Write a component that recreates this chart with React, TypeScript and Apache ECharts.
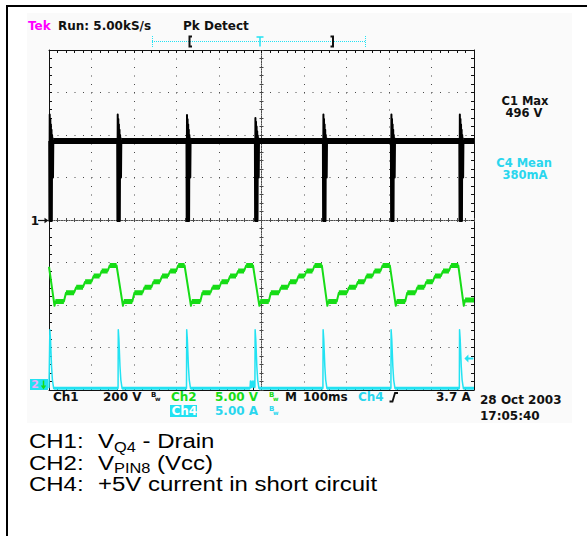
import React, { useEffect, useRef } from 'react';
import * as echarts from 'echarts';

// ---------------- data ----------------
// horizontal: 100 ms/div, 10 divisions, time in ms measured from the trigger point (screen centre)
const timeMin = -500;
const timeMax = 500;
const timePerDiv = 100;
// vertical graticule: 8 divisions, 0 at the centre line
const divMin = -4;
const divMax = 4;
// channel scales: CH1 200 V/div (ground at centre), CH2 5 V/div and CH4 5 A/div (ground at bottom edge)
const ch1Range = [-800, 800];
const ch2Range = [0, 40];
const ch4Range = [0, 40];

// CH1: V(Q4) drain [ms, V]
const ch1Drain: [number, number][] = [
  [-499.5, 372], [-499, -5], [-498.3, 496], [-497.6, -5], [-496.9, 475], [-496.2, -5], [-495.5, 450], [-494.8, -5], [-494.1, 425], [-493.4, -5], [-492.7, 400], [-492, 200], [-491.3, 385], [-490.6, 200], [-489.9, 372],
  [-339.5, 372], [-339, -5], [-338.3, 496], [-337.6, -5], [-336.9, 475], [-336.2, -5], [-335.5, 450], [-334.8, -5], [-334.1, 425], [-333.4, -5], [-332.7, 400], [-332, 200], [-331.3, 385], [-330.6, 200], [-329.9, 372],
  [-176.5, 372], [-176, -5], [-175.3, 494], [-174.6, -5], [-173.9, 474], [-173.2, -5], [-172.5, 450], [-171.8, -5], [-171.1, 425], [-170.4, -5], [-169.7, 400], [-169, 200], [-168.3, 385], [-167.6, 200], [-166.9, 372],
  [-15.5, 372], [-15, -5], [-14.3, 480], [-13.6, -5], [-12.9, 462], [-12.2, -5], [-11.5, 440], [-10.8, -5], [-10.1, 418], [-9.4, -5], [-8.7, 398], [-8, 200], [-7.3, 385], [-6.6, 200], [-5.9, 372],
  [144.5, 372], [145, -5], [145.7, 496], [146.4, -5], [147.1, 475], [147.8, -5], [148.5, 450], [149.2, -5], [149.9, 425], [150.6, -5], [151.3, 400], [152, 200], [152.7, 385], [153.4, 200], [154.1, 372],
  [304.5, 372], [305, -5], [305.7, 496], [306.4, -5], [307.1, 475], [307.8, -5], [308.5, 450], [309.2, -5], [309.9, 425], [310.6, -5], [311.3, 400], [312, 200], [312.7, 385], [313.4, 200], [314.1, 372],
  [465.5, 372], [466, -5], [466.7, 496], [467.4, -5], [468.1, 475], [468.8, -5], [469.5, 450], [470.2, -5], [470.9, 425], [471.6, -5], [472.3, 400], [473, 200], [473.7, 385], [474.4, 200], [475.1, 372],
  [500, 372],
];

// CH2: V(PIN8) (Vcc) [ms, V]
const ch2Vcc: [number, number][] = [
  [-500, 14.5],
  [-487, 9.9], [-485, 10.4], [-465, 10.4], [-460, 11.45], [-441, 11.45], [-436, 12.1], [-420, 12.1], [-415, 12.75], [-400, 12.75], [-395, 13.4], [-381, 13.4], [-376, 14.0], [-362, 14.0], [-357, 14.65], [-341, 14.65],
  [-326, 9.9], [-324, 10.4], [-304, 10.4], [-299, 11.45], [-280, 11.45], [-275, 12.1], [-259, 12.1], [-254, 12.75], [-239, 12.75], [-234, 13.4], [-220, 13.4], [-215, 14.0], [-201, 14.0], [-196, 14.65], [-181, 14.65],
  [-166, 9.9], [-164, 10.4], [-144, 10.4], [-139, 11.45], [-120, 11.45], [-115, 12.1], [-99, 12.1], [-94, 12.75], [-79, 12.75], [-74, 13.4], [-60, 13.4], [-55, 14.0], [-41, 14.0], [-36, 14.65], [-20, 14.65],
  [-5, 9.9], [-3, 10.4], [17, 10.4], [22, 11.45], [41, 11.45], [46, 12.1], [62, 12.1], [67, 12.75], [82, 12.75], [87, 13.4], [101, 13.4], [106, 14.0], [120, 14.0], [125, 14.65], [142, 14.65],
  [155, 9.9], [157, 10.4], [177, 10.4], [182, 11.45], [201, 11.45], [206, 12.1], [222, 12.1], [227, 12.75], [242, 12.75], [247, 13.4], [261, 13.4], [266, 14.0], [280, 14.0], [285, 14.65], [302, 14.65],
  [316, 9.9], [318, 10.4], [338, 10.4], [343, 11.45], [362, 11.45], [367, 12.1], [383, 12.1], [388, 12.75], [403, 12.75], [408, 13.4], [422, 13.4], [427, 14.0], [441, 14.0], [446, 14.65], [463, 14.65],
  [476, 9.9], [479, 10.6], [500, 10.6],
];

// CH4: +5V current in short circuit [ms, A]
const ch4Current: [number, number][] = [
  [-500, 0.2], [-498.5, 0.2], [-498, 7.1], [-496.5, 6.0], [-494, 2.8], [-492, 1.2], [-489, 0.2],
  [-337.5, 0.2], [-337, 7.1], [-335.5, 6.0], [-333, 2.8], [-331, 1.2], [-328, 0.2],
  [-176.5, 0.2], [-176, 7.1], [-174.5, 6.0], [-172, 2.8], [-170, 1.2], [-167, 0.2],
  [-27, 0.2], [-26, 1.05], [-24, 0.3], [-22, 1.05], [-20, 0.3], [-18, 1.05], [-16, 0.3], [-15.5, 0.4], [-15, 7.1], [-13.5, 6.0], [-11, 2.8], [-9, 1.2], [-6, 0.2],
  [144.5, 0.2], [145, 7.1], [146.5, 6.0], [149, 2.8], [151, 1.2], [154, 0.2],
  [304.5, 0.2], [305, 7.1], [306.5, 6.0], [309, 2.8], [311, 1.2], [314, 0.2],
  [465.5, 0.2], [466, 7.1], [467.5, 6.0], [470, 2.8], [472, 1.2], [475, 0.2],
  [500, 0.2],
];
const ch4TriggerLevel = 3.7;

// readout texts
const hdrTek = 'Tek';
const hdrRun = 'Run: 5.00kS/s';
const hdrMode = 'Pk Detect';
const meas1 = ['C1 Max', '496 V'];
const meas4 = ['C4 Mean', '380mA'];
const ch1Scale = ['Ch1', '200 V'];
const ch2Scale = ['Ch2', '5.00 V'];
const ch4Scale = ['Ch4', '5.00 A'];
const timebase = ['M', '100ms'];
const trigger = ['Ch4', '3.7 A'];
const dateStamp = ['28 Oct 2003', '17:05:40'];
const noteLabels = ['CH1:', 'CH2:', 'CH4:'];
const noteMain = ['V', 'V', '+5V current in short circuit'];
const noteSub = ['Q4', 'PIN8', ''];
const noteRest = [' - Drain', ' (Vcc)', ''];

// ---------------- styling ----------------
const BLACK = '#111111';
const GREEN = '#16dc16';
const CYAN = '#22e2f2';
const CYAN_TXT = '#2ad6ee';
const MAGENTA = '#ff00ff';
const DOT = '#4a4a4a';
const SCOPE_FONT = 'bold 12px "DejaVu Sans"';
const MEAS_FONT = 'bold 11.5px "DejaVu Sans"';
const NOTE_FONT = `20.5px "Liberation Sans"`;
const SUB_FONT = `14px "Liberation Sans"`;
const NOTE_STRETCH = 1.17;

function measure(text: string, font: string): number {
  const ctx = document.createElement('canvas').getContext('2d');
  if (!ctx) return text.length * 10;
  ctx.font = font;
  return ctx.measureText(text).width;
}

function flatSegments(pts: [number, number][], minLen: number) {
  const out: any[] = [];
  for (let i = 0; i < pts.length - 1; i++) {
    const a = pts[i];
    const b = pts[i + 1];
    if (a[1] === b[1] && b[0] - a[0] >= minLen) {
      out.push([a[0], a[1]], [b[0], b[1]], [b[0], '-']);
    }
  }
  return out;
}

function txt(x: number, y: number, text: string, fill: string, extra: any = {}) {
  const align = extra.align || 'left';
  return {
    type: 'text',
    x,
    y,
    scaleX: extra.scaleX || 1,
    silent: true,
    z: 20,
    style: {
      text,
      fill,
      font: extra.font || SCOPE_FONT,
      align,
      textAlign: align,
      verticalAlign: 'middle',
      textVerticalAlign: 'middle',
    },
  };
}

function line(x1: number, y1: number, x2: number, y2: number, stroke: string, lineWidth = 1, lineDash?: number[]) {
  return {
    type: 'line',
    silent: true,
    z: 20,
    shape: { x1, y1, x2, y2 },
    style: { stroke, lineWidth, lineDash },
  };
}

function poly(points: number[][], stroke: string, lineWidth = 1.5) {
  return { type: 'polyline', silent: true, z: 20, shape: { points }, style: { stroke, lineWidth, fill: null } };
}

function bw(x: number, y: number, fill: string) {
  return [
    txt(x, y - 2, 'B', fill, { font: 'bold 7px "DejaVu Sans"' }),
    txt(x + 4, y + 1, 'w', fill, { font: 'bold 6px "DejaVu Sans"' }),
  ];
}

function buildOption() {
  const graphic: any[] = [];
  // page frame and screen background
  graphic.push({ type: 'rect', silent: true, z: -10, shape: { x: 27, y: 13, width: 545, height: 410 }, style: { fill: '#fafafa' } });
  graphic.push({ type: 'rect', silent: true, z: 20, shape: { x: 6, y: 5, width: 581, height: 2 }, style: { fill: '#000' } });
  graphic.push({ type: 'rect', silent: true, z: 20, shape: { x: 6, y: 5, width: 2, height: 531 }, style: { fill: '#000' } });

  // header
  graphic.push(txt(28, 26, hdrTek, MAGENTA));
  graphic.push(txt(58, 26, hdrRun, BLACK));
  graphic.push(txt(183, 26, hdrMode, BLACK));
  // record position bar
  graphic.push(line(152, 41.5, 366, 41.5, CYAN, 1, [1, 1]));
  graphic.push(line(152.5, 36, 152.5, 47, CYAN, 1, [1, 1]));
  graphic.push(line(365.5, 36, 365.5, 47, CYAN, 1, [1, 1]));
  graphic.push(poly([[192, 36.5], [189.5, 36.5], [189.5, 46.5], [192, 46.5]], BLACK, 2));
  graphic.push(poly([[330.5, 36.5], [333, 36.5], [333, 46.5], [330.5, 46.5]], BLACK, 2));
  graphic.push(line(256.5, 37, 263.5, 37, CYAN, 1.5));
  graphic.push(line(260, 37, 260, 46.5, CYAN, 1.5));

  // measurements
  graphic.push(txt(525, 100.5, meas1[0], BLACK, { align: 'center', font: MEAS_FONT }));
  graphic.push(txt(524, 113, meas1[1], BLACK, { align: 'center', font: MEAS_FONT }));
  graphic.push(txt(524, 162.5, meas4[0], CYAN_TXT, { align: 'center', font: MEAS_FONT }));
  graphic.push(txt(525, 175, meas4[1], CYAN_TXT, { align: 'center', font: MEAS_FONT }));

  // ground markers
  graphic.push(txt(35, 221, '1', BLACK, { align: 'center' }));
  graphic.push(line(38, 220.5, 45, 220.5, BLACK, 1.2));
  graphic.push({ type: 'polygon', silent: true, z: 20, shape: { points: [[48.5, 220.5], [44.5, 217.8], [44.5, 223.2]] }, style: { fill: BLACK } });
  graphic.push({ type: 'rect', silent: true, z: 19, shape: { x: 30, y: 379, width: 18, height: 11 }, style: { fill: CYAN } });
  graphic.push(txt(35, 384.5, '2', '#f4a6f8', { align: 'center', font: 'bold 11px "DejaVu Sans"' }));
  graphic.push(line(43.5, 380.5, 43.5, 387, GREEN, 1.5));
  graphic.push({ type: 'polygon', silent: true, z: 20, shape: { points: [[43.5, 389.5], [40.8, 385.5], [46.2, 385.5]] }, style: { fill: GREEN } });

  // bottom readout row 1
  const r1 = 397;
  graphic.push(txt(53, r1, ch1Scale[0], BLACK));
  graphic.push(txt(103, r1, ch1Scale[1], BLACK));
  graphic.push(...bw(151, r1, BLACK));
  graphic.push(txt(171, r1, ch2Scale[0], GREEN));
  graphic.push(txt(215, r1, ch2Scale[1], GREEN));
  graphic.push(...bw(269, r1, GREEN));
  graphic.push(txt(285, r1, timebase[0], BLACK));
  graphic.push(txt(303, r1, timebase[1], BLACK));
  graphic.push(txt(358, r1, trigger[0], CYAN_TXT));
  graphic.push(poly([[389.5, 401.5], [392.5, 401.5], [395, 393], [398, 393]], BLACK, 1.8));
  graphic.push(txt(436, r1, trigger[1], BLACK));
  graphic.push(txt(480, 399.5, dateStamp[0], BLACK));
  graphic.push(txt(480, 415.5, dateStamp[1], BLACK));
  // row 2
  const r2 = 411;
  graphic.push({ type: 'rect', silent: true, z: 19, shape: { x: 170, y: 405, width: 27, height: 12 }, style: { fill: CYAN } });
  graphic.push(txt(171.5, r2, ch4Scale[0], '#ffffff'));
  graphic.push(txt(215, r2, ch4Scale[1], CYAN_TXT));
  graphic.push(...bw(269, r2, CYAN_TXT));

  // notes below the screen
  const noteY = [441.5, 463, 484.5];
  noteLabels.forEach((lab, i) => {
    const y = noteY[i];
    graphic.push(txt(29, y, lab, '#000', { font: NOTE_FONT, scaleX: NOTE_STRETCH }));
    let x = 98;
    graphic.push(txt(x, y, noteMain[i], '#000', { font: NOTE_FONT, scaleX: NOTE_STRETCH }));
    x += measure(noteMain[i], NOTE_FONT) * NOTE_STRETCH;
    if (noteSub[i]) {
      graphic.push(txt(x, y + 5, noteSub[i], '#000', { font: SUB_FONT, scaleX: NOTE_STRETCH }));
      x += measure(noteSub[i], SUB_FONT) * NOTE_STRETCH;
    }
    if (noteRest[i]) {
      graphic.push(txt(x, y, noteRest[i], '#000', { font: NOTE_FONT, scaleX: NOTE_STRETCH }));
    }
  });

  const borderX = {
    type: 'value',
    min: timeMin,
    max: timeMax,
    interval: timePerDiv,
    axisLabel: { show: false },
    axisLine: { show: true, onZero: false, lineStyle: { color: BLACK, width: 1 } },
    axisTick: { show: true, inside: true, length: 3, lineStyle: { color: BLACK } },
    minorTick: { show: true, splitNumber: 5, length: 3, lineStyle: { color: BLACK } },
    splitLine: { show: false },
  };
  const centreX = (inside: boolean) => ({
    type: 'value',
    min: timeMin,
    max: timeMax,
    interval: timePerDiv,
    position: 'bottom',
    axisLabel: { show: false },
    axisLine: { show: true, onZero: true, onZeroAxisIndex: 0, lineStyle: { color: DOT, width: 1, type: [1, 1.5] } },
    axisTick: { show: true, inside, length: 2, lineStyle: { color: DOT } },
    minorTick: { show: true, splitNumber: 5, length: 2, lineStyle: { color: DOT } },
    splitLine: { show: false },
  });
  const borderY = {
    type: 'value',
    min: divMin,
    max: divMax,
    interval: 1,
    axisLabel: { show: false },
    axisLine: { show: true, onZero: false, lineStyle: { color: BLACK, width: 1 } },
    axisTick: { show: true, inside: true, length: 3, lineStyle: { color: BLACK } },
    minorTick: { show: true, splitNumber: 5, length: 3, lineStyle: { color: BLACK } },
    splitLine: { show: false },
  };
  const centreY = (inside: boolean) => ({
    type: 'value',
    min: divMin,
    max: divMax,
    interval: 1,
    position: 'left',
    axisLabel: { show: false },
    axisLine: { show: true, onZero: true, onZeroAxisIndex: 0, lineStyle: { color: DOT, width: 1, type: [1, 1.5] } },
    axisTick: { show: true, inside, length: 2, lineStyle: { color: DOT } },
    minorTick: { show: true, splitNumber: 5, length: 2, lineStyle: { color: DOT } },
    splitLine: { show: false },
  });
  const hiddenY = (r: number[]) => ({ type: 'value', min: r[0], max: r[1], show: false, axisLine: { onZero: false } });

  return {
    animation: false,
    backgroundColor: '#ffffff',
    grid: { left: 49, top: 50, width: 425, height: 340, containLabel: false },
    xAxis: [
      { ...borderX, position: 'bottom', splitLine: { show: true, lineStyle: { color: DOT, width: 1, type: [1, 7.5] } } },
      { ...borderX, position: 'top' },
      centreX(false),
      centreX(true),
    ],
    yAxis: [
      { ...borderY, position: 'left', splitLine: { show: true, lineStyle: { color: DOT, width: 1, type: [1, 7.5] } } },
      { ...borderY, position: 'right' },
      centreY(false),
      centreY(true),
      hiddenY(ch1Range),
      hiddenY(ch2Range),
      hiddenY(ch4Range),
    ],
    graphic,
    series: [
      {
        type: 'line', name: 'CH1 band', xAxisIndex: 0, yAxisIndex: 4, data: flatSegments(ch1Drain, 20),
        symbol: 'none', silent: true, connectNulls: false, lineStyle: { color: '#000', width: 6, cap: 'butt' }, z: 5,
      },
      {
        type: 'line', name: 'CH1', xAxisIndex: 0, yAxisIndex: 4, data: ch1Drain,
        symbol: 'none', silent: true, lineStyle: { color: '#000', width: 2, join: 'round' }, z: 5,
      },
      {
        type: 'line', name: 'CH2 band', xAxisIndex: 0, yAxisIndex: 5, data: flatSegments(ch2Vcc, 5),
        symbol: 'none', silent: true, connectNulls: false, lineStyle: { color: GREEN, width: 5, cap: 'butt' }, z: 5,
      },
      {
        type: 'line', name: 'CH2', xAxisIndex: 0, yAxisIndex: 5, data: ch2Vcc,
        symbol: 'none', silent: true, lineStyle: { color: GREEN, width: 2, join: 'round' }, z: 5,
      },
      {
        type: 'line', name: 'CH4 band', xAxisIndex: 0, yAxisIndex: 6, data: flatSegments(ch4Current, 5),
        symbol: 'none', silent: true, connectNulls: false, lineStyle: { color: CYAN, width: 3, cap: 'butt' }, z: 5,
      },
      {
        type: 'line', name: 'CH4', xAxisIndex: 0, yAxisIndex: 6, data: ch4Current,
        symbol: 'none', silent: true, lineStyle: { color: CYAN, width: 1.5, join: 'round' }, z: 5,
        markPoint: {
          silent: true,
          symbol: 'path://M0,4 L4,0 L4,3 L9,3 L9,5 L4,5 L4,8 Z',
          symbolSize: [9, 8],
          label: { show: false },
          itemStyle: { color: CYAN },
          data: [{ coord: [488, ch4TriggerLevel] }],
        },
      },
    ],
  };
}

export default function App() {
  const ref = useRef<HTMLDivElement>(null);
  useEffect(() => {
    if (!ref.current) return;
    const chart = echarts.init(ref.current, undefined, { renderer: 'svg' });
    chart.setOption(buildOption() as any);
    return () => chart.dispose();
  }, []);
  return (
    <div
      ref={ref}
      style={{ position: 'fixed', left: 0, top: 0, width: 587, height: 536, background: '#ffffff' }}
    />
  );
}
